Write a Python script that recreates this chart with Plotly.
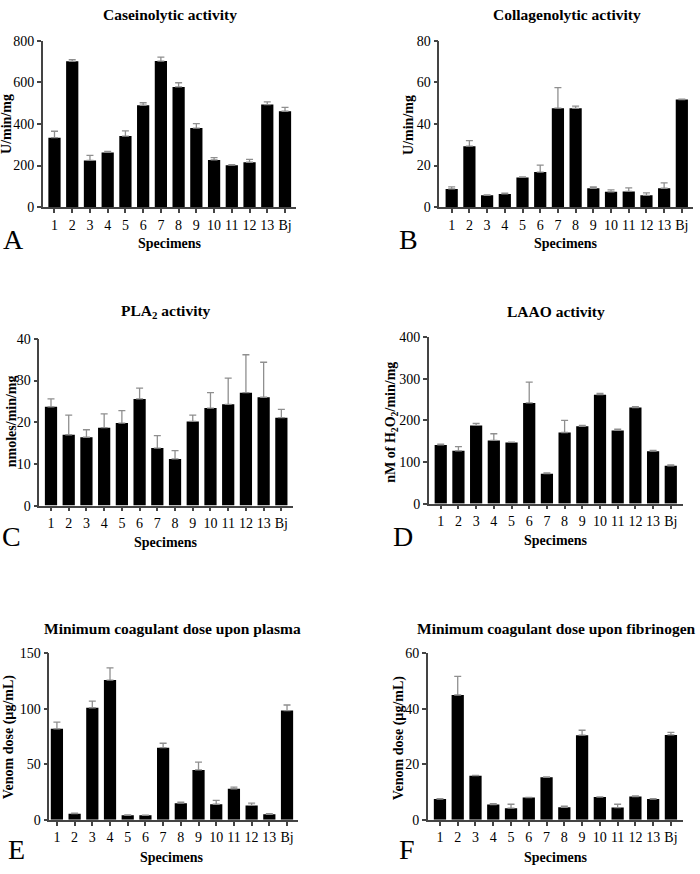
import plotly.graph_objects as go

categories = ["1", "2", "3", "4", "5", "6", "7", "8", "9", "10", "11", "12", "13", "Bj"]

casein_mean = [334, 701, 225, 263, 342, 490, 702, 578, 380, 227, 202, 216, 493, 461]
casein_upper = [365, 709, 249, 268, 367, 502, 721, 598, 402, 238, 205, 230, 506, 480]

collagen_mean = [8.8, 29.3, 5.7, 6.4, 14.3, 16.9, 47.6, 47.5, 9.1, 7.4, 7.6, 5.7, 9.1, 51.7]
collagen_upper = [9.8, 32.0, 5.9, 6.7, 14.6, 20.2, 57.5, 48.6, 9.8, 8.3, 9.3, 6.9, 11.7, 51.9]

pla2_mean = [23.7, 17.0, 16.4, 18.7, 19.8, 25.6, 13.8, 11.2, 20.2, 23.4, 24.3, 27.1, 26.0, 21.1]
pla2_upper = [25.6, 21.7, 18.2, 22.0, 22.8, 28.2, 16.8, 13.2, 21.7, 27.1, 30.6, 36.2, 34.4, 23.1]

laao_mean = [141, 127, 188, 152, 147, 242, 72, 171, 186, 262, 176, 231, 126, 91]
laao_upper = [143, 137, 193, 168, 148, 292, 74, 200, 188, 265, 179, 233, 128, 93]

plasma_mean = [82, 5.5, 101, 126, 4, 4, 65, 15, 45, 14, 28, 13, 5, 98.5]
plasma_upper = [88, 6, 107, 137, 4.5, 4.3, 69, 16, 52, 17.5, 29.5, 15, 5.5, 103.5]

fibr_mean = [7.5, 45, 15.9, 5.5, 4.2, 8, 15.3, 4.5, 30.5, 8.2, 4.4, 8.4, 7.5, 30.6]
fibr_upper = [7.6, 51.7, 16.0, 5.8, 5.6, 8.1, 15.5, 4.9, 32.3, 8.3, 5.6, 8.6, 7.6, 31.5]

W, H = 700, 874
FONT = "Liberation Serif, Times New Roman, serif"

panels = [
    dict(mean=casein_mean, up=casein_upper, x0=42.7, x1=296, yt=34.3, yb=203.7, xr=[-0.665, 13.62],
         yr=[0, 800], dt=200, title="Caseinolytic activity", tx=170, ty=8, ylab="U/min/mg", lx=7, ly=119,
         sx=170, sy=241, letter="A", Lx=13.5, Ly=237),
    dict(mean=collagen_mean, up=collagen_upper, x0=439.3, x1=693, yt=34.3, yb=203.7, xr=[-0.70, 13.63],
         yr=[0, 80], dt=20, title="Collagenolytic activity", tx=567, ty=8, ylab="U/min/mg", lx=409, ly=120,
         sx=566, sy=241, letter="B", Lx=408.5, Ly=237),
    dict(mean=pla2_mean, up=pla2_upper, x0=39.3, x1=292.7, yt=337.7, yb=507.3, xr=[-0.66, 13.64],
         yr=[0, 40], dt=10, title="PLA<sub>2</sub> activity", tx=166, ty=310, ylab="nmoles/min/mg", lx=11.5, ly=422,
         sx=166, sy=545, letter="C", Lx=11, Ly=539),
    dict(mean=laao_mean, up=laao_upper, x0=428.7, x1=683, yt=336, yb=505.3, xr=[-0.68, 13.69],
         yr=[0, 400], dt=100, title="LAAO activity", tx=556, ty=310,
         ylab="nM of H<sub>2</sub>O<sub>2</sub>/min/mg", lx=392, ly=423,
         sx=556, sy=543, letter="D", Lx=403, Ly=539),
    dict(mean=plasma_mean, up=plasma_upper, x0=49.3, x1=298, yt=657.7, yb=827, xr=[-0.43, 13.62],
         yr=[0, 150], dt=50, title="Minimum coagulant dose upon plasma", tx=172, ty=632,
         ylab="Venom dose (µg/mL)", lx=9, ly=743,
         sx=172, sy=865, letter="E", Lx=16.5, Ly=857),
    dict(mean=fibr_mean, up=fibr_upper, x0=427.7, x1=683, yt=657.7, yb=827, xr=[-0.69, 13.68],
         yr=[0, 60], dt=20, title="Minimum coagulant dose upon fibrinogen", tx=556, ty=632,
         ylab="Venom dose (µg/mL)", lx=399, ly=743,
         sx=556, sy=865, letter="F", Lx=406.5, Ly=857),
]

fig = go.Figure()
annotations = []


def px(x):
    return x / W


def py(y):
    return 1 - y / H


for i, p in enumerate(panels):
    n = i + 1
    xa = "x" if n == 1 else f"x{n}"
    ya = "y" if n == 1 else f"y{n}"
    err = [u - m for u, m in zip(p["up"], p["mean"])]
    fig.add_trace(go.Bar(
        x=categories, y=p["mean"], xaxis=xa, yaxis=ya, width=0.69,
        marker=dict(color="black", line=dict(width=0)),
        error_y=dict(type="data", array=err, arrayminus=[0] * len(err), symmetric=False,
                     color="#8f8f8f", thickness=1.3, width=3.5),
        showlegend=False, hoverinfo="skip",
    ))
    axis_common = dict(showline=True, linecolor="#444", linewidth=1.5, ticks="outside",
                       ticklen=4, tickwidth=1.5, tickcolor="#444", showgrid=False, zeroline=False,
                       tickfont=dict(family=FONT, size=14, color="black"))
    fig.update_layout(**{
        ("xaxis" if n == 1 else f"xaxis{n}"): dict(
            domain=[px(p["x0"]), px(p["x1"])], anchor=ya, range=p["xr"],
            type="category", categoryorder="array", categoryarray=categories, **axis_common),
        ("yaxis" if n == 1 else f"yaxis{n}"): dict(
            domain=[py(p["yb"]), py(p["yt"])], anchor=xa, range=p["yr"], dtick=p["dt"],
            tick0=0, **axis_common),
    })
    annotations.append(dict(text=f"<b>{p['title']}</b>", x=px(p["tx"]), y=py(p["ty"]),
                            xref="paper", yref="paper", xanchor="center", yanchor="middle",
                            showarrow=False, font=dict(family=FONT, size=15.5, color="black")))
    annotations.append(dict(text=f"<b>{p['ylab']}</b>", x=px(p["lx"]), y=py(p["ly"]),
                            xref="paper", yref="paper", xanchor="center", yanchor="middle",
                            textangle=-90, showarrow=False,
                            font=dict(family=FONT, size=14, color="black")))
    annotations.append(dict(text="<b>Specimens</b>", x=px(p["sx"]), y=py(p["sy"]),
                            xref="paper", yref="paper", xanchor="center", yanchor="middle",
                            showarrow=False, font=dict(family=FONT, size=14, color="black")))
    annotations.append(dict(text=p["letter"], x=px(p["Lx"]), y=py(p["Ly"]),
                            xref="paper", yref="paper", xanchor="center", yanchor="middle",
                            showarrow=False, font=dict(family=FONT, size=28, color="black")))

fig.update_layout(width=W, height=H, margin=dict(l=0, r=0, t=0, b=0),
                  paper_bgcolor="white", plot_bgcolor="white", bargap=0.3,
                  annotations=annotations, font=dict(family=FONT))

fig.write_html(
    "out.html",
    config={"displayModeBar": False},
    post_script="document.body.style.margin='0';document.body.style.padding='0';"
                "document.body.style.overflow='hidden';",
)
